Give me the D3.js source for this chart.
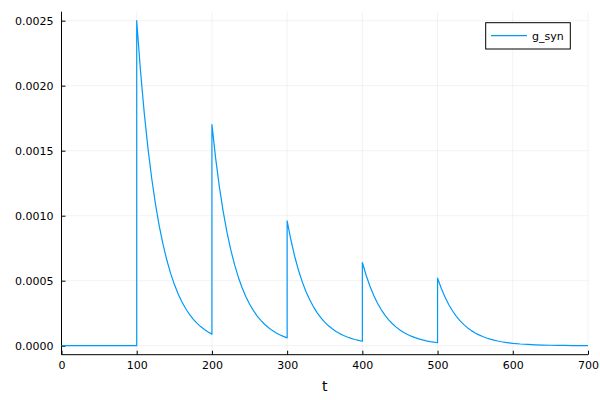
<!DOCTYPE html>
<html lang="en">
<head>
    <meta charset="UTF-8">
    <title>g_syn</title>
    <script src="https://cdn.jsdelivr.net/npm/d3@7"></script>
    <style>
        body{margin:0;background:#fff;}
        text{font-family:"DejaVu Sans",sans-serif;}
    </style>
</head>
<body>
<div class="chart"></div>
<script>
    //data
    let tValues=[0,100,100,105,110,115,120,125,130,135,140,145,150,155,160,165,170,175,180,185,190,195,200,
        200,205,210,215,220,225,230,235,240,245,250,255,260,265,270,275,280,285,290,295,300,
        300,305,310,315,320,325,330,335,340,345,350,355,360,365,370,375,380,385,390,395,400,
        400,405,410,415,420,425,430,435,440,445,450,455,460,465,470,475,480,485,490,495,500,
        500,505,510,515,520,525,530,535,540,545,550,555,560,565,570,575,580,585,590,595,600,
        610,620,630,640,650,660,670,680,690,700]
    let gSyn=[0,0,
        0.002500,0.002116,0.001791,0.001516,0.001284,0.001087,0.000920,0.000779,0.000659,0.000558,0.000472,0.000400,0.000338,0.000286,0.000242,0.000205,0.000174,0.000147,0.000124,0.000105,0.0000892,
        0.001700,0.001439,0.001218,0.001031,0.000873,0.000739,0.000625,0.000529,0.000448,0.000379,0.000321,0.000272,0.000230,0.000195,0.000165,0.000140,0.000118,0.000100,0.0000846,0.0000716,0.0000606,
        0.000960,0.000813,0.000688,0.000582,0.000493,0.000417,0.000353,0.000299,0.000253,0.000214,0.000181,0.000153,0.000130,0.000110,0.0000931,0.0000788,0.0000667,0.0000565,0.0000478,0.0000405,0.0000342,
        0.000640,0.000542,0.000459,0.000388,0.000329,0.000278,0.000235,0.000199,0.000169,0.000143,0.000121,0.000102,0.0000866,0.0000733,0.0000621,0.0000525,0.0000445,0.0000376,0.0000319,0.0000270,0.0000228,
        0.000520,0.000440,0.000373,0.000315,0.000267,0.000226,0.000191,0.000162,0.000137,0.000116,0.0000982,0.0000831,0.0000704,0.0000596,0.0000504,0.0000427,0.0000361,0.0000306,0.0000259,0.0000219,0.0000185,
        0.0000133,0.0000095,0.0000068,0.0000049,0.0000035,0.0000025,0.0000018,0.0000013,0.0000009,0.0000007]
    let xTicks=[0,100,200,300,400,500,600,700]
    let yTicks=[0,0.0005,0.0010,0.0015,0.0020,0.0025]
    let seriesName='g_syn'
    let xLabel='t'

    //init
    let width=600,height=400
    let mLeft=61.5,mRight=588,mTop=11.7,mBottom=354.7
    let xScale=d3.scaleLinear().domain([0,700]).range([mLeft,mRight])
    let yScale=d3.scaleLinear().domain([-0.0000692,0.002569]).range([mBottom,mTop])
    let svg=d3.select('.chart').append('svg').attr('width',width).attr('height',height)

    //grid
    svg.append('g').selectAll('line').data(xTicks).join('line')
        .attr('x1',d=>xScale(d)).attr('x2',d=>xScale(d)).attr('y1',mTop).attr('y2',mBottom)
        .attr('stroke','#000').attr('stroke-opacity',0.1).attr('stroke-width',0.5)
    svg.append('g').selectAll('line').data(yTicks).join('line')
        .attr('x1',mLeft).attr('x2',mRight).attr('y1',d=>yScale(d)).attr('y2',d=>yScale(d))
        .attr('stroke','#000').attr('stroke-opacity',0.1).attr('stroke-width',0.5)

    //axis
    let xAxis=d3.axisBottom(xScale).tickValues(xTicks).tickFormat(d3.format('d')).tickSizeInner(-4).tickSizeOuter(0).tickPadding(7)
    let yAxis=d3.axisLeft(yScale).tickValues(yTicks).tickFormat(d3.format('.4f')).tickSizeInner(-4).tickSizeOuter(0).tickPadding(8)
    let gx=svg.append('g').attr('transform','translate(0,'+mBottom+')').call(xAxis)
    let gy=svg.append('g').attr('transform','translate('+mLeft+',0)').call(yAxis)
    gx.select('.domain').attr('d','M'+mLeft+',0H'+mRight)
    gy.select('.domain').attr('d','M0,'+mTop+'V'+mBottom)
    for(let a of [gx,gy]){
        a.select('.domain').attr('stroke','#000')
        a.selectAll('.tick line').attr('stroke','#000')
        a.selectAll('.tick text').attr('fill','#000').attr('font-size',11).attr('font-family','"DejaVu Sans",sans-serif')
    }
    svg.append('text').attr('x',(mLeft+mRight)/2).attr('y',391).attr('text-anchor','middle')
        .attr('font-size',14).text(xLabel)

    //line
    let line=d3.line().x((d,i)=>xScale(tValues[i])).y(d=>yScale(d))
    svg.append('path').datum(gSyn).attr('d',line)
        .attr('fill','none').attr('stroke','#009af9').attr('stroke-width',1.2).attr('stroke-linejoin','round')

    //legend
    let lg=svg.append('g')
    lg.append('rect').attr('x',485.7).attr('y',22.7).attr('width',84.6).attr('height',26.3)
        .attr('fill','#fff').attr('stroke','#000').attr('stroke-width',1)
    lg.append('line').attr('x1',491).attr('x2',527).attr('y1',35.7).attr('y2',35.7)
        .attr('stroke','#009af9').attr('stroke-width',1.2)
    lg.append('text').attr('x',532).attr('y',39.5).attr('font-size',11).text(seriesName)
</script>
</body>
</html>
